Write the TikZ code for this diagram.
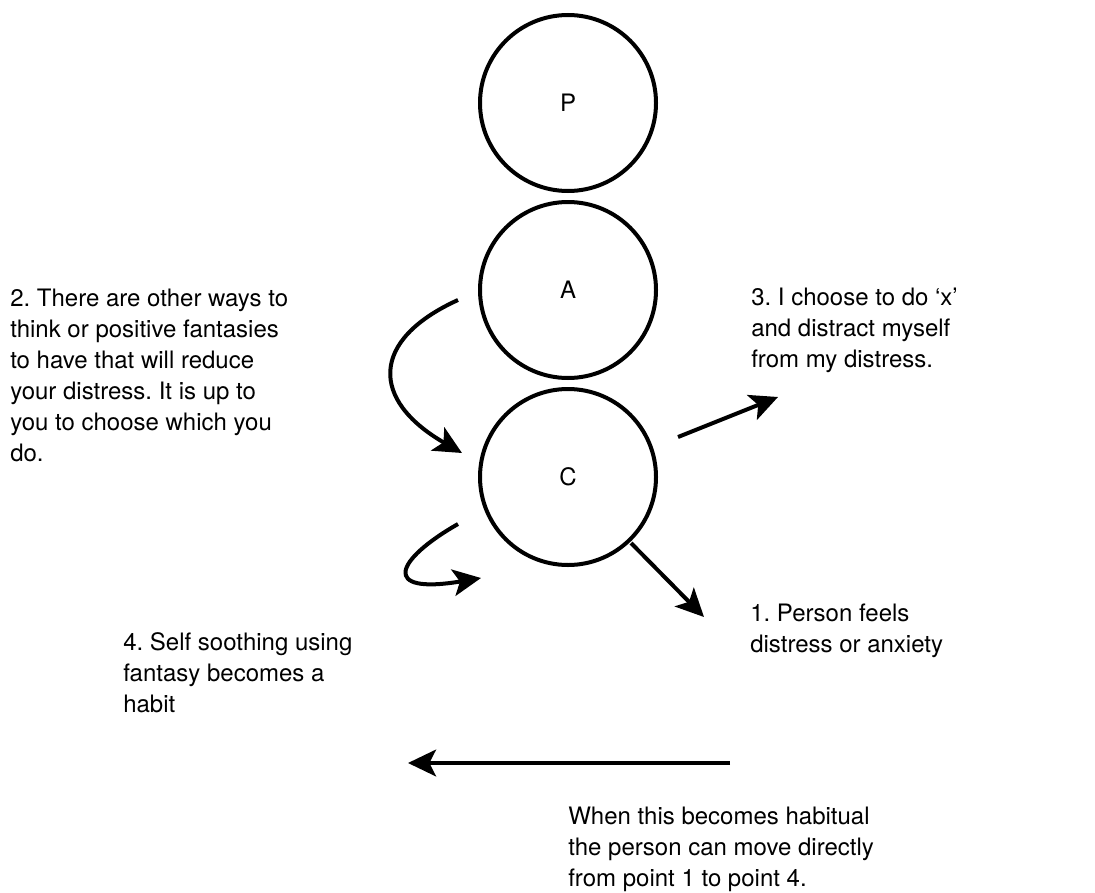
\documentclass[tikz,border=0pt]{standalone}
\usepackage{fontspec}
\setmainfont{TeX Gyre Heros}
\frenchspacing
\usetikzlibrary{arrows.meta}
\begin{document}
\begin{tikzpicture}[x=0.75pt,y=-0.75pt,
  ring/.style={circle,draw,line width=3pt,minimum size=132pt,inner sep=0pt,font=\fontsize{18}{23.25}\selectfont},
  label/.style={anchor=base west,align=left,inner sep=0pt,font=\fontsize{18}{23.25}\selectfont},
  link/.style={line width=3pt,-{Stealth[length=21pt,width=20pt,inset=5pt]}}]
\useasboundingbox (0,0) rectangle (1095,892);
% the three stacked circles
\node[ring] (P) at (568,103) {P};
\node[ring] (A) at (568,290) {A};
\node[ring] (C) at (568,477) {C};
% texts, placed by the baseline of their last line
\node[label] (t2) at (10,461) {2. There are other ways to\\think or positive fantasies\\to have that will reduce\\your distress. It is up to\\you to choose which you\\do.};
\node[label] (t3) at (751,367) {3. I choose to do ‘x’\\and distract myself\\from my distress.};
\node[label] (t1) at (750,652) {1. Person feels\\distress or anxiety};
\node[label] (t4) at (123,712) {4. Self soothing using\\fantasy becomes a\\habit};
\node[label] (tb) at (568,886) {When this becomes habitual\\the person can move directly\\from point 1 to point 4.};
% arrow end points
\coordinate (s2) at (458,300);
\coordinate (e2) at (462,453);
\coordinate (s4) at (458,524);
\coordinate (e4) at (481,578);
\coordinate (s3) at (678,437);
\coordinate (e3) at (778,397);
\coordinate (s1) at (631,543);
\coordinate (e1) at (704,617);
\coordinate (sb) at (730,763);
\coordinate (eb) at (408,763);
% connectors
\draw[link] (s2) .. controls (370,340) and (370,400) .. (e2);
\draw[link] (s4) .. controls (395,560) and (380,595) .. (e4);
\draw[link] (s3) -- (e3);
\draw[link] (s1) -- (e1);
\draw[link] (sb) -- (eb);
\end{tikzpicture}
\end{document}
